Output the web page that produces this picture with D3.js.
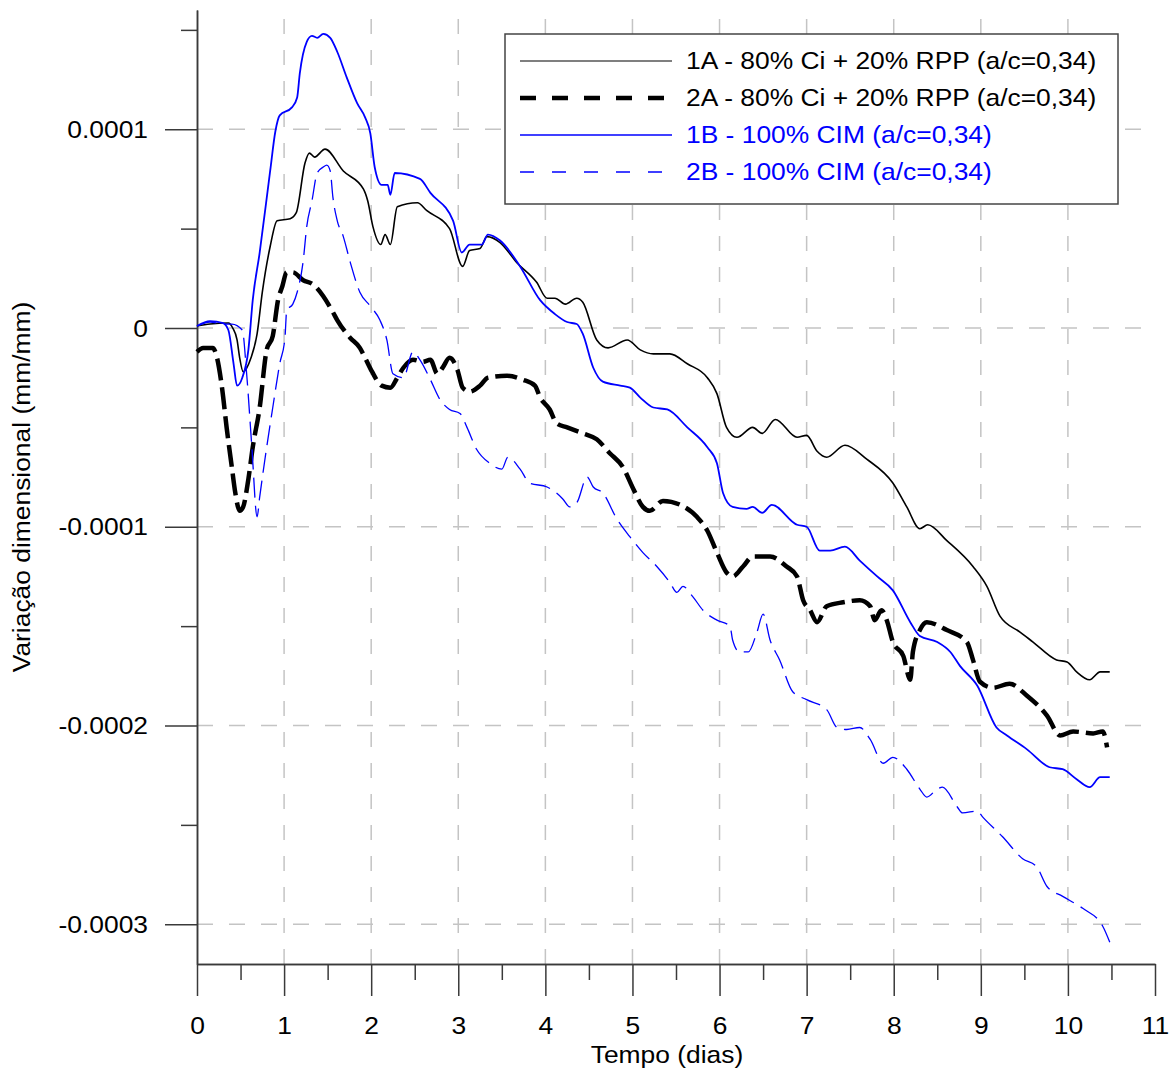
<!DOCTYPE html>
<html>
<head>
<meta charset="utf-8">
<script src="https://cdn.jsdelivr.net/npm/d3@7"></script>
<style>
  body { margin: 0; background: #fff; }
  text { font-family: "Liberation Sans", Arial, sans-serif; }
</style>
</head>
<body>
<div id="chart"></div>
<script>
const width = 1173;
const height = 1070;

// [tempo (dias), variação (mm/mm)]
const s1A = [
  [0,0.01e-4],[0.15,0.02e-4],[0.36,0.025e-4],[0.41,0e-4],[0.46,-0.06e-4],[0.49,-0.15e-4],[0.53,-0.22e-4],
  [0.62,-0.15e-4],[0.69,-0.03e-4],[0.75,0.18e-4],[0.84,0.41e-4],[0.92,0.54e-4],[1.07,0.55e-4],[1.14,0.58e-4],
  [1.24,0.83e-4],[1.29,0.88e-4],[1.35,0.86e-4],[1.47,0.90e-4],[1.68,0.79e-4],[1.91,0.70e-4],[1.96,0.64e-4],
  [2.02,0.51e-4],[2.11,0.42e-4],[2.16,0.47e-4],[2.22,0.42e-4],[2.30,0.61e-4],[2.53,0.63e-4],[2.64,0.59e-4],
  [2.90,0.50e-4],[3.05,0.31e-4],[3.13,0.39e-4],[3.25,0.40e-4],[3.33,0.46e-4],[3.48,0.43e-4],[3.67,0.33e-4],
  [3.90,0.23e-4],[4.02,0.15e-4],[4.11,0.15e-4],[4.23,0.12e-4],[4.36,0.15e-4],[4.43,0.13e-4],[4.59,-0.06e-4],
  [4.72,-0.10e-4],[4.94,-0.06e-4],[5.09,-0.11e-4],[5.24,-0.13e-4],[5.43,-0.13e-4],[5.63,-0.18e-4],[5.86,-0.25e-4],
  [5.97,-0.33e-4],[6.08,-0.50e-4],[6.20,-0.55e-4],[6.38,-0.50e-4],[6.49,-0.53e-4],[6.64,-0.46e-4],[6.89,-0.55e-4],
  [7.00,-0.54e-4],[7.12,-0.62e-4],[7.23,-0.65e-4],[7.44,-0.59e-4],[7.69,-0.66e-4],[7.99,-0.78e-4],[8.15,-0.90e-4],
  [8.30,-1.01e-4],[8.39,-0.99e-4],[8.61,-1.07e-4],[8.91,-1.20e-4],[9.07,-1.30e-4],[9.22,-1.45e-4],[9.45,-1.53e-4],
  [9.60,-1.58e-4],[9.87,-1.67e-4],[9.99,-1.68e-4],[10.10,-1.73e-4],[10.25,-1.77e-4],[10.37,-1.73e-4],[10.48,-1.73e-4]
];

const s2A = [
  [0,-0.12e-4],[0.07,-0.10e-4],[0.18,-0.10e-4],[0.23,-0.15e-4],[0.29,-0.31e-4],[0.34,-0.50e-4],[0.40,-0.70e-4],
  [0.44,-0.83e-4],[0.49,-0.92e-4],[0.53,-0.90e-4],[0.59,-0.76e-4],[0.64,-0.60e-4],[0.72,-0.40e-4],[0.80,-0.11e-4],
  [0.87,-0.04e-4],[0.93,0.14e-4],[0.98,0.21e-4],[1.03,0.28e-4],[1.10,0.28e-4],[1.22,0.24e-4],[1.33,0.22e-4],
  [1.45,0.16e-4],[1.56,0.08e-4],[1.61,0.04e-4],[1.76,-0.05e-4],[1.87,-0.10e-4],[1.93,-0.15e-4],[2.01,-0.22e-4],
  [2.12,-0.29e-4],[2.22,-0.30e-4],[2.30,-0.25e-4],[2.37,-0.20e-4],[2.48,-0.16e-4],[2.59,-0.17e-4],[2.68,-0.16e-4],
  [2.76,-0.23e-4],[2.82,-0.20e-4],[2.90,-0.15e-4],[2.99,-0.21e-4],[3.05,-0.30e-4],[3.13,-0.32e-4],[3.25,-0.29e-4],
  [3.34,-0.25e-4],[3.56,-0.24e-4],[3.74,-0.26e-4],[3.88,-0.29e-4],[3.94,-0.35e-4],[4.05,-0.41e-4],[4.13,-0.48e-4],
  [4.25,-0.50e-4],[4.43,-0.53e-4],[4.59,-0.56e-4],[4.74,-0.63e-4],[4.89,-0.70e-4],[5.01,-0.81e-4],[5.12,-0.90e-4],
  [5.20,-0.92e-4],[5.35,-0.87e-4],[5.55,-0.89e-4],[5.74,-0.95e-4],[5.86,-1.02e-4],[5.97,-1.13e-4],[6.08,-1.23e-4],
  [6.15,-1.25e-4],[6.27,-1.20e-4],[6.38,-1.15e-4],[6.58,-1.15e-4],[6.77,-1.20e-4],[6.89,-1.25e-4],[6.96,-1.37e-4],
  [7.04,-1.42e-4],[7.12,-1.48e-4],[7.23,-1.40e-4],[7.42,-1.38e-4],[7.61,-1.37e-4],[7.73,-1.40e-4],[7.78,-1.47e-4],
  [7.86,-1.42e-4],[7.92,-1.47e-4],[7.99,-1.58e-4],[8.11,-1.65e-4],[8.19,-1.77e-4],[8.22,-1.63e-4],[8.30,-1.52e-4],
  [8.38,-1.48e-4],[8.61,-1.52e-4],[8.84,-1.58e-4],[8.91,-1.67e-4],[8.99,-1.78e-4],[9.14,-1.81e-4],[9.33,-1.79e-4],
  [9.53,-1.85e-4],[9.76,-1.95e-4],[9.91,-2.05e-4],[10.06,-2.03e-4],[10.29,-2.04e-4],[10.40,-2.03e-4],[10.45,-2.11e-4]
];

const s1B = [
  [0,0.01e-4],[0.15,0.035e-4],[0.30,0.025e-4],[0.36,-0.01e-4],[0.42,-0.18e-4],[0.46,-0.29e-4],[0.52,-0.25e-4],
  [0.59,-0.11e-4],[0.64,0.14e-4],[0.72,0.38e-4],[0.84,0.79e-4],[0.90,0.99e-4],[0.95,1.07e-4],[1.09,1.11e-4],
  [1.15,1.16e-4],[1.18,1.28e-4],[1.26,1.44e-4],[1.32,1.47e-4],[1.38,1.46e-4],[1.45,1.48e-4],[1.53,1.46e-4],
  [1.61,1.39e-4],[1.72,1.26e-4],[1.84,1.13e-4],[1.93,1.06e-4],[1.99,0.98e-4],[2.04,0.81e-4],[2.12,0.72e-4],
  [2.19,0.72e-4],[2.22,0.67e-4],[2.27,0.78e-4],[2.56,0.75e-4],[2.68,0.68e-4],[2.94,0.54e-4],[3.04,0.38e-4],
  [3.13,0.42e-4],[3.27,0.42e-4],[3.34,0.47e-4],[3.48,0.44e-4],[3.71,0.31e-4],[3.94,0.14e-4],[4.11,0.07e-4],
  [4.25,0.03e-4],[4.36,0.02e-4],[4.43,-0.03e-4],[4.55,-0.20e-4],[4.66,-0.27e-4],[4.86,-0.29e-4],[4.97,-0.30e-4],
  [5.09,-0.35e-4],[5.24,-0.40e-4],[5.40,-0.41e-4],[5.63,-0.50e-4],[5.86,-0.60e-4],[5.97,-0.68e-4],[6.04,-0.83e-4],
  [6.15,-0.90e-4],[6.31,-0.91e-4],[6.38,-0.90e-4],[6.49,-0.93e-4],[6.60,-0.89e-4],[6.89,-0.99e-4],[7.00,-1.00e-4],
  [7.15,-1.12e-4],[7.27,-1.12e-4],[7.44,-1.10e-4],[7.61,-1.17e-4],[7.81,-1.25e-4],[7.99,-1.32e-4],[8.19,-1.48e-4],
  [8.30,-1.55e-4],[8.50,-1.58e-4],[8.65,-1.63e-4],[8.76,-1.70e-4],[8.96,-1.80e-4],[9.18,-2.01e-4],[9.30,-2.05e-4],
  [9.53,-2.12e-4],[9.79,-2.21e-4],[9.94,-2.22e-4],[10.10,-2.27e-4],[10.25,-2.31e-4],[10.37,-2.26e-4],[10.48,-2.26e-4]
];

const s2B = [
  [0,0.01e-4],[0.15,0.03e-4],[0.30,0.02e-4],[0.40,0.02e-4],[0.52,-0.01e-4],[0.57,-0.23e-4],[0.63,-0.60e-4],
  [0.69,-0.95e-4],[0.72,-0.85e-4],[0.80,-0.60e-4],[0.87,-0.40e-4],[0.95,-0.18e-4],[1.01,-0.05e-4],[1.03,0.09e-4],
  [1.10,0.12e-4],[1.15,0.18e-4],[1.22,0.34e-4],[1.26,0.51e-4],[1.32,0.64e-4],[1.38,0.78e-4],[1.45,0.81e-4],
  [1.49,0.82e-4],[1.53,0.79e-4],[1.56,0.66e-4],[1.61,0.54e-4],[1.68,0.46e-4],[1.76,0.33e-4],[1.87,0.18e-4],
  [1.99,0.11e-4],[2.10,0.04e-4],[2.18,-0.06e-4],[2.25,-0.23e-4],[2.37,-0.25e-4],[2.48,-0.12e-4],[2.56,-0.16e-4],
  [2.68,-0.26e-4],[2.79,-0.36e-4],[2.90,-0.41e-4],[3.02,-0.43e-4],[3.10,-0.50e-4],[3.21,-0.61e-4],[3.36,-0.68e-4],
  [3.50,-0.71e-4],[3.57,-0.65e-4],[3.71,-0.71e-4],[3.82,-0.78e-4],[4.02,-0.80e-4],[4.20,-0.86e-4],[4.28,-0.90e-4],
  [4.36,-0.88e-4],[4.48,-0.75e-4],[4.55,-0.80e-4],[4.66,-0.83e-4],[4.82,-0.96e-4],[4.97,-1.05e-4],[5.12,-1.13e-4],
  [5.28,-1.20e-4],[5.43,-1.28e-4],[5.51,-1.33e-4],[5.58,-1.30e-4],[5.69,-1.35e-4],[5.81,-1.42e-4],[5.97,-1.47e-4],
  [6.12,-1.50e-4],[6.15,-1.57e-4],[6.23,-1.63e-4],[6.33,-1.63e-4],[6.43,-1.53e-4],[6.50,-1.44e-4],[6.58,-1.57e-4],
  [6.69,-1.67e-4],[6.84,-1.83e-4],[7.00,-1.87e-4],[7.23,-1.92e-4],[7.35,-2.01e-4],[7.46,-2.02e-4],[7.61,-2.01e-4],
  [7.73,-2.07e-4],[7.88,-2.19e-4],[7.99,-2.16e-4],[8.15,-2.22e-4],[8.30,-2.32e-4],[8.38,-2.36e-4],[8.50,-2.32e-4],
  [8.56,-2.31e-4],[8.73,-2.41e-4],[8.79,-2.44e-4],[8.96,-2.43e-4],[9.02,-2.46e-4],[9.25,-2.56e-4],[9.48,-2.67e-4],
  [9.64,-2.71e-4],[9.76,-2.81e-4],[9.94,-2.86e-4],[10.17,-2.92e-4],[10.40,-3.01e-4],[10.48,-3.09e-4]
];

const seriesNames = [
  "1A - 80% Ci + 20% RPP (a/c=0,34)",
  "2A - 80% Ci + 20% RPP (a/c=0,34)",
  "1B - 100% CIM (a/c=0,34)",
  "2B - 100% CIM (a/c=0,34)"
];
const xTicks = [0,1,2,3,4,5,6,7,8,9,10,11];
const xMinorTicks = [0.5,1.5,2.5,3.5,4.5,5.5,6.5,7.5,8.5,9.5,10.5];
const yTicks = [0.0001, 0, -0.0001, -0.0002, -0.0003];
const yTickLabels = ["0.0001", "0", "-0.0001", "-0.0002", "-0.0003"];
const yMinorTicks = [0.00015, 0.00005, -0.00005, -0.00015, -0.00025];

const styles = [
  { data: s1A, color: "#000", w: 1.6, dash: null, legendDash: null },
  { data: s2A, color: "#000", w: 4.5, dash: "22,7", legendDash: "16,16" },
  { data: s1B, color: "#0000ff", w: 1.8, dash: null, legendDash: null },
  { data: s2B, color: "#0000ff", w: 1.3, dash: "20,8", legendDash: "14,18" }
];

const x = d3.scaleLinear().domain([0, 11]).range([197, 1155]);
const y = d3.scaleLinear().domain([-0.00032, 0.00016]).range([964, 10]);
const stretch = "scale(1.1,1)";
const axisColor = "#3a3a3a";

const svg = d3.select("#chart").append("svg")
  .attr("width", width)
  .attr("height", height);

// grid
const grid = svg.append("g").attr("class", "grid")
  .attr("stroke", "#c4c4c4").attr("stroke-width", 1.5);
grid.selectAll("line.h").data(yTicks).enter().append("line")
  .attr("class", "h")
  .attr("x1", x(0)).attr("x2", x(11))
  .attr("y1", d => y(d)).attr("y2", d => y(d))
  .attr("stroke-dasharray", "16,16");
grid.selectAll("line.v").data(xTicks.filter(d => d > 0 && d < 11)).enter().append("line")
  .attr("class", "v")
  .attr("x1", d => x(d)).attr("x2", d => x(d))
  .attr("y1", y.range()[0]).attr("y2", y.range()[1])
  .attr("stroke-dasharray", "15,16");

// axes
const xAxis = svg.append("g")
  .attr("transform", `translate(0,${y.range()[0]})`)
  .call(d3.axisBottom(x).tickValues(xTicks).tickSize(32).tickSizeOuter(0).tickFormat(d3.format("d")));
const xMinor = svg.append("g")
  .attr("transform", `translate(0,${y.range()[0]})`)
  .call(d3.axisBottom(x).tickValues(xMinorTicks).tickSize(16).tickSizeOuter(0).tickFormat(""));

const yAxis = svg.append("g")
  .attr("transform", `translate(${x(0)},0)`)
  .call(d3.axisLeft(y).tickValues(yTicks).tickSize(32).tickSizeOuter(0)
    .tickFormat((d, i) => yTickLabels[i]));
const yMinor = svg.append("g")
  .attr("transform", `translate(${x(0)},0)`)
  .call(d3.axisLeft(y).tickValues(yMinorTicks).tickSize(16).tickSizeOuter(0).tickFormat(""));

[xAxis, xMinor, yAxis, yMinor].forEach(g => {
  g.selectAll(".domain").attr("stroke", axisColor).attr("stroke-width", 1.5);
  g.selectAll(".tick line").attr("stroke", axisColor).attr("stroke-width", 1.5);
});

xAxis.selectAll(".tick text")
  .attr("y", 0).attr("dy", "0.35em")
  .attr("transform", `translate(0,62) ${stretch}`)
  .attr("font-size", 24).attr("fill", "#000")
  .attr("font-family", "Liberation Sans, Arial, sans-serif");
yAxis.selectAll(".tick text")
  .attr("x", 0).attr("dy", "0.34em")
  .attr("transform", `translate(-49,0) ${stretch}`)
  .attr("font-size", 24).attr("fill", "#000")
  .attr("font-family", "Liberation Sans, Arial, sans-serif");

// axis titles
svg.append("text")
  .attr("transform", `translate(667,1063) ${stretch}`)
  .attr("text-anchor", "middle")
  .attr("font-size", 24)
  .text("Tempo (dias)");
svg.append("text")
  .attr("transform", `translate(30,487) rotate(-90) ${stretch}`)
  .attr("text-anchor", "middle")
  .attr("font-size", 24)
  .text("Variação dimensional (mm/mm)");

// series
const line = d3.line()
  .x(d => x(d[0]))
  .y(d => y(d[1]))
  .curve(d3.curveMonotoneX);

svg.append("g").attr("class", "series")
  .selectAll("path").data(styles).enter().append("path")
  .attr("d", d => line(d.data))
  .attr("fill", "none")
  .attr("stroke", d => d.color)
  .attr("stroke-width", d => d.w)
  .attr("stroke-dasharray", d => d.dash)
  .attr("stroke-linejoin", "round");

// legend
const legend = svg.append("g").attr("class", "legend");
legend.append("rect")
  .attr("x", 505).attr("y", 34)
  .attr("width", 613).attr("height", 170)
  .attr("fill", "#fff")
  .attr("stroke", "#444").attr("stroke-width", 1.5);

const rows = legend.selectAll("g.row").data(styles).enter().append("g")
  .attr("class", "row")
  .attr("transform", (d, i) => `translate(0,${61 + i * 37})`);
rows.append("line")
  .attr("x1", 520).attr("x2", 672)
  .attr("stroke", d => d.color)
  .attr("stroke-width", d => d.w === 1.8 ? 1.4 : d.w === 1.6 ? 1.2 : d.w)
  .attr("stroke-dasharray", d => d.legendDash);
rows.append("text")
  .attr("transform", `translate(686,0) ${stretch}`)
  .attr("dy", "0.35em")
  .attr("font-size", 24)
  .attr("fill", d => d.color)
  .text((d, i) => seriesNames[i]);
</script>
</body>
</html>
